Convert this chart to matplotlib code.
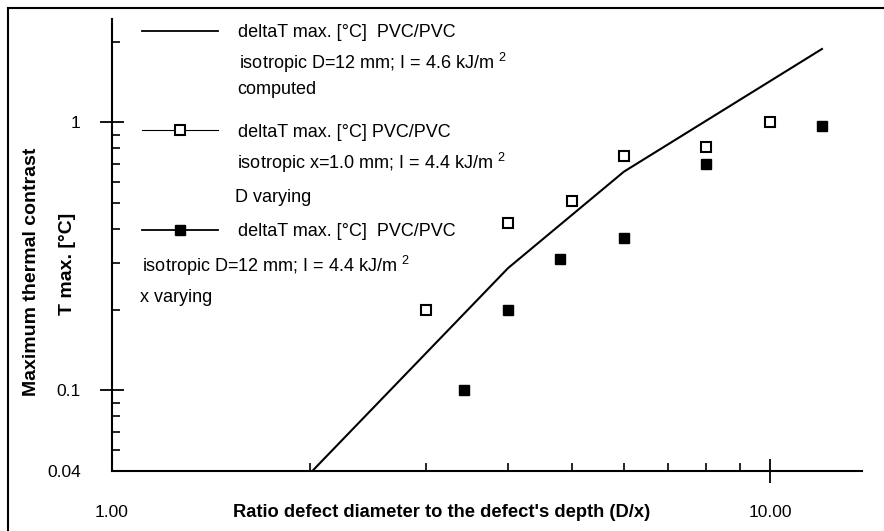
import matplotlib
matplotlib.use("Agg")
import matplotlib.pyplot as plt
from matplotlib.lines import Line2D
from matplotlib.ticker import FixedLocator, FixedFormatter, LogLocator, NullFormatter

plt.rcParams['font.family'] = ['Liberation Sans', 'DejaVu Sans']
plt.rcParams['mathtext.default'] = 'regular'

# computed curve
ratio_computed = [2.0, 4.0, 6.0, 12.0]
dT_computed = [0.049, 0.286, 0.655, 1.88]
# measured, D varying (open squares)
ratio_D = [3.0, 4.0, 5.0, 6.0, 8.0, 10.0]
dT_D = [0.20, 0.42, 0.51, 0.75, 0.81, 1.0]
# measured, x varying (filled squares)
ratio_x = [3.43, 4.0, 4.8, 6.0, 8.0, 12.0]
dT_x = [0.10, 0.20, 0.31, 0.37, 0.70, 0.97]

legend_titles = ["deltaT max. [°C]  PVC/PVC",
                 "deltaT max. [°C] PVC/PVC",
                 "deltaT max. [°C]  PVC/PVC"]
legend_lines2 = ["isotropic D=12 mm; I = 4.6 kJ/m $^{2}$",
                 "isotropic x=1.0 mm; I = 4.4 kJ/m $^{2}$",
                 "isotropic D=12 mm; I = 4.4 kJ/m $^{2}$"]
legend_lines3 = ["computed", "D varying", "x varying"]

xtick_vals = [1, 10]
xtick_labels = ["1.00", "10.00"]
ytick_vals = [0.05, 0.1, 1]
ytick_labels = ["0.04", "0.1", "1"]

fig = plt.figure(figsize=(8.84, 5.31), dpi=100)
ax = fig.add_axes([0.1267, 0.113, 0.8483, 0.851])

ax.plot(ratio_computed, dT_computed, color='black', lw=1.5)
ax.plot(ratio_D, dT_D, ls='none', marker='s', ms=7, mfc='white', mec='black', mew=1.5)
ax.plot(ratio_x, dT_x, ls='none', marker='s', ms=7.5, mfc='black', mec='black')

ax.set_xscale('log')
ax.set_yscale('log')
ax.set_xlim(1, 13.8)
ax.set_ylim(0.05, 2.43)

for s in ['top', 'right']:
    ax.spines[s].set_visible(False)
for s in ['left', 'bottom']:
    ax.spines[s].set_linewidth(1.5)

ax.xaxis.set_major_locator(FixedLocator(xtick_vals))
ax.xaxis.set_major_formatter(FixedFormatter(xtick_labels))
ax.yaxis.set_major_locator(FixedLocator(ytick_vals))
ax.yaxis.set_major_formatter(FixedFormatter(ytick_labels))
ax.xaxis.set_minor_locator(LogLocator(base=10, subs=range(2, 10)))
ax.yaxis.set_minor_locator(LogLocator(base=10, subs=range(2, 10)))
ax.xaxis.set_minor_formatter(NullFormatter())
ax.yaxis.set_minor_formatter(NullFormatter())

ax.tick_params(which='major', direction='inout', length=17, width=1.3, labelsize=12.5)
ax.tick_params(axis='x', which='major', pad=16)
ax.tick_params(axis='y', which='major', pad=14)
ax.tick_params(which='minor', direction='in', length=5.5, width=1.2)
ax.xaxis.get_major_ticks()[0].tick1line.set_visible(False)
ax.yaxis.get_major_ticks()[0].tick1line.set_visible(False)

ax.set_xlabel("Ratio defect diameter to the defect's depth (D/x)",
              fontsize=13.2, fontweight='bold')
ax.xaxis.set_label_coords(0.44, -0.073)

fig.text(0.036, 0.488, "Maximum thermal contrast", rotation=90,
         fontsize=14, fontweight='bold', ha='center', va='center')
fig.text(0.076, 0.503, "T max. [°C]", rotation=90,
         fontsize=14, fontweight='bold', ha='center', va='center')

handles = [Line2D([], [], color='black', lw=1.3),
           Line2D([], [], color='black', lw=0.8, marker='s', ms=7,
                  mfc='white', mec='black', mew=1.5),
           Line2D([], [], color='black', lw=1.3, marker='s', ms=7.5,
                  mfc='black', mec='black')]
ax.legend(handles, legend_titles, loc='upper left', bbox_to_anchor=(0.04, 0.989),
          frameon=False, fontsize=13, borderpad=0, borderaxespad=0,
          handlelength=4.2, handletextpad=1.1, labelspacing=4.57)

line2_pos = [(239, 63), (237, 163), (142, 266)]
line3_pos = [(237, 89), (235, 197), (140, 297)]
for txt, (px, py) in zip(legend_lines2, line2_pos):
    ax.text((px - 112) / 750, (471 - py) / 452, txt, transform=ax.transAxes,
            fontsize=13, ha='left', va='center')
for txt, (px, py) in zip(legend_lines3, line3_pos):
    ax.text((px - 112) / 750, (471 - py) / 452, txt, transform=ax.transAxes,
            fontsize=13, ha='left', va='center')

# outer frame (left and top edge)
fig.add_artist(Line2D([0.009, 0.009], [0.0, 0.985], color='black', lw=1.5,
                      transform=fig.transFigure))
fig.add_artist(Line2D([0.009, 1.0], [0.985, 0.985], color='black', lw=1.5,
                      transform=fig.transFigure))

fig.savefig('out.png', dpi=100)
